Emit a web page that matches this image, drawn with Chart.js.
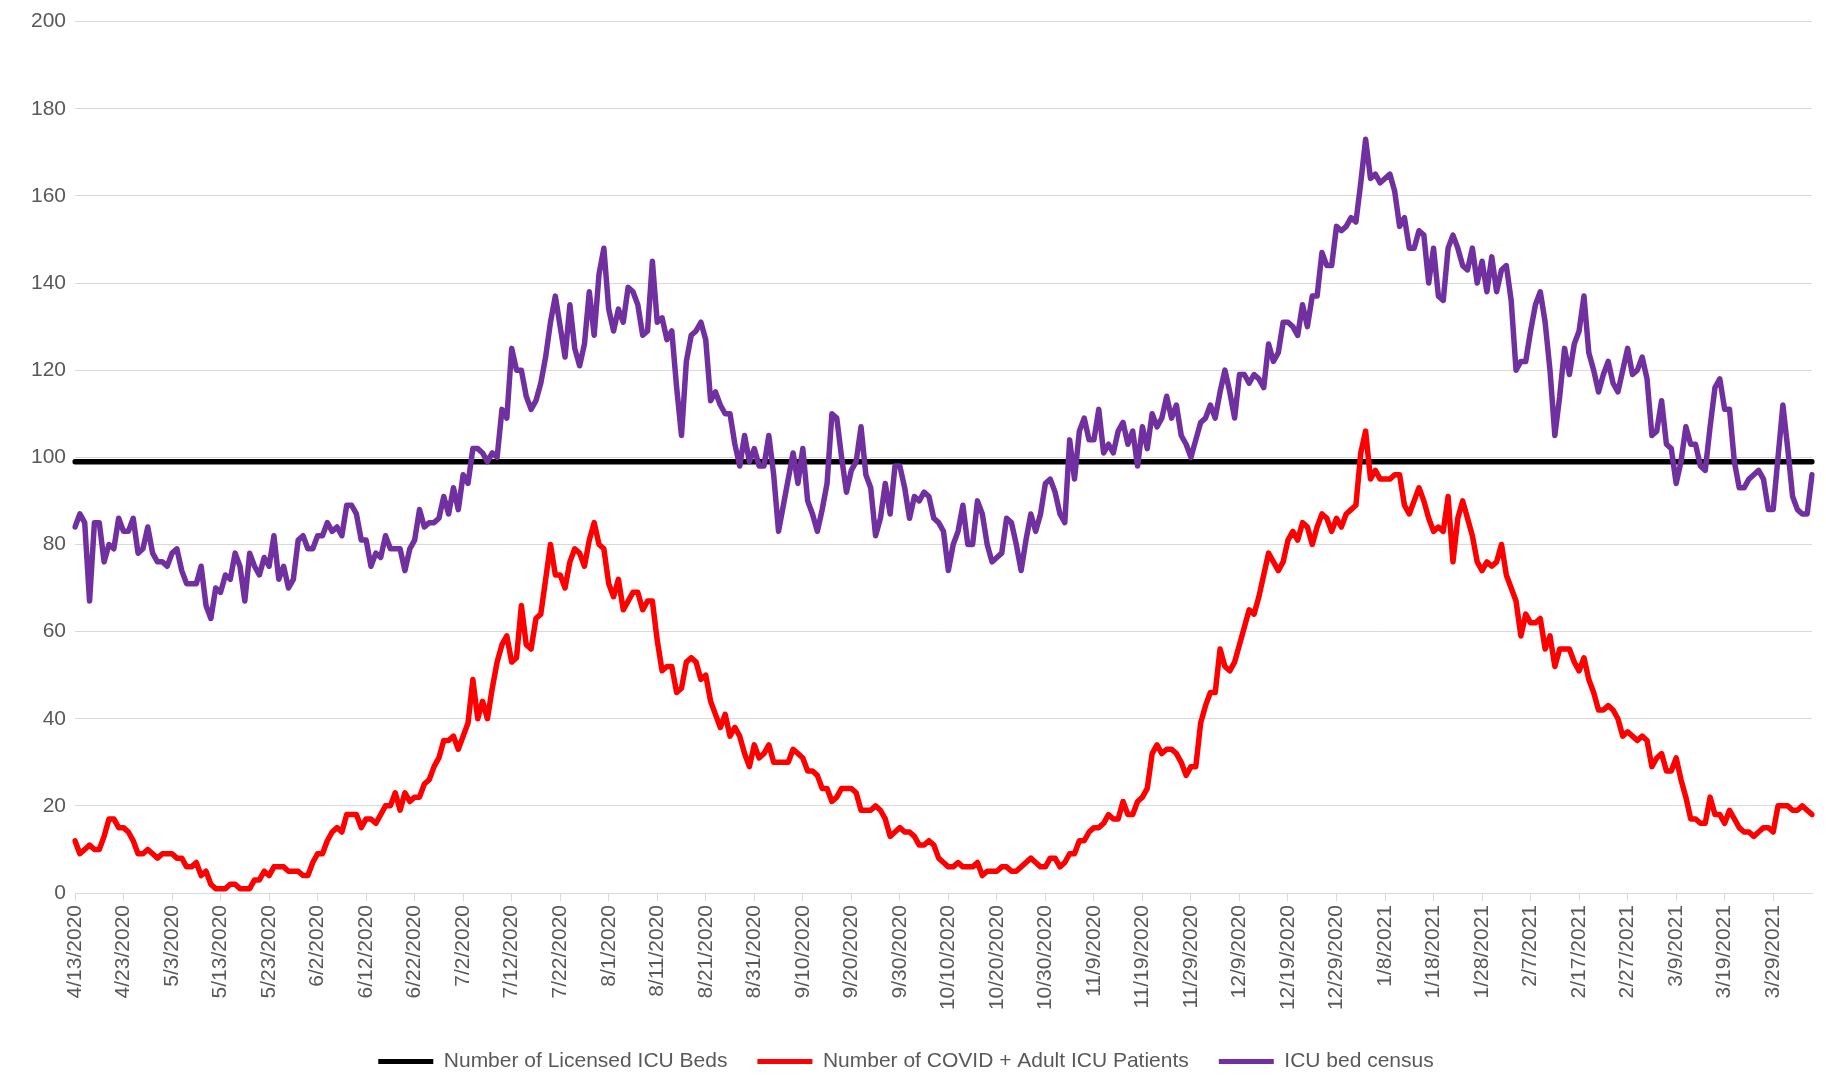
<!DOCTYPE html>
<html>
<head>
<meta charset="utf-8">
<script src="https://cdn.jsdelivr.net/npm/chart.js@4.4.1/dist/chart.umd.min.js"></script>
<style>
  html, body { margin: 0; padding: 0; background: #ffffff; }
  #wrap { width: 1826px; height: 1084px; position: relative; }
</style>
</head>
<body>
<div id="wrap"><canvas id="c" width="1826" height="1084"></canvas></div>
<script>
// ---- Data ----
const startDate = [2020, 4, 13]; // first day of the daily series (M/D/YYYY labels)
const labelEvery = 10;            // a date label every 10 days
const licensedBeds = 99;          // Number of Licensed ICU Beds (constant)

const covidAdultIcu = [
  12,9,10,11,10,10,13,17,17,15,15,14,12,9,9,10,9,8,9,9,
  9,8,8,6,6,7,4,5,2,1,1,1,2,2,1,1,1,3,3,5,
  4,6,6,6,5,5,5,4,4,7,9,9,12,14,15,14,18,18,18,15,
  17,17,16,18,20,20,23,19,23,21,22,22,25,26,29,31,35,35,36,33,
  36,39,49,40,44,40,47,53,57,59,53,54,66,57,56,63,64,72,80,73,
  73,70,76,79,78,75,81,85,80,79,71,68,72,65,67,69,69,65,67,67,
  58,51,52,52,46,47,53,54,53,49,50,44,41,38,41,36,38,36,32,29,
  34,31,32,34,30,30,30,30,33,32,31,28,28,27,24,24,21,22,24,24,
  24,23,19,19,19,20,19,17,13,14,15,14,14,13,11,11,12,11,8,7,
  6,6,7,6,6,6,7,4,5,5,5,6,6,5,5,6,7,8,7,6,
  6,8,8,6,7,9,9,12,12,14,15,15,16,18,17,17,21,18,18,21,
  22,24,32,34,32,33,33,32,30,27,29,29,39,43,46,46,56,52,51,53,
  57,61,65,64,68,73,78,76,74,76,81,83,81,85,84,80,84,87,86,83,
  86,84,87,88,89,101,106,95,97,95,95,95,96,96,89,87,90,93,90,86,
  83,84,83,91,76,86,90,86,82,76,74,76,75,76,80,73,70,67,59,64,
  62,62,63,56,59,52,56,56,56,53,51,54,49,46,42,42,43,42,40,36,
  37,36,35,36,35,29,31,32,28,28,31,26,22,17,17,16,16,22,18,18,
  16,19,17,15,14,14,13,14,15,15,14,20,20,20,19,19,20,19,18
];

const icuBedCensus = [
  84,87,85,67,85,85,76,80,79,86,83,83,86,78,79,84,78,76,76,75,
  78,79,74,71,71,71,75,66,63,70,69,73,72,78,75,67,78,75,73,77,
  75,82,72,75,70,72,81,82,79,79,82,82,85,83,84,82,89,89,87,81,
  81,75,78,77,82,79,79,79,74,79,81,88,84,85,85,86,91,87,93,88,
  96,94,102,102,101,99,101,100,111,109,125,120,120,114,111,113,117,123,131,137,
  130,123,135,125,121,126,138,128,142,148,134,129,134,131,139,138,135,128,129,145,
  131,132,127,129,116,105,122,128,129,131,127,113,115,112,110,110,103,98,105,99,
  102,98,98,105,96,83,89,95,101,94,102,90,87,83,88,94,110,109,100,92,
  97,99,107,96,93,82,86,94,87,98,98,93,86,91,90,92,91,86,85,83,
  74,80,83,89,80,80,90,87,80,76,77,78,86,85,80,74,81,87,83,87,
  94,95,92,87,85,104,95,106,109,104,104,111,101,103,101,106,108,103,106,98,
  107,102,110,107,109,114,109,112,105,103,100,104,108,109,112,109,115,120,115,109,
  119,119,117,119,118,116,126,122,124,131,131,130,128,135,130,137,137,147,144,144,
  153,152,153,155,154,163,173,164,165,163,164,165,161,153,155,148,148,152,151,140,
  148,137,136,148,151,148,144,143,148,140,145,138,146,138,143,144,136,120,122,122,
  129,135,138,131,120,105,114,125,119,126,129,137,124,120,115,119,122,117,115,120,
  125,119,120,123,118,105,106,113,103,102,94,99,107,103,103,98,97,107,116,118,
  111,111,99,93,93,95,96,97,95,88,88,100,112,102,91,88,87,87,96
];

const yTickMin = 0, yTickMax = 200, yTickStep = 20;

// ---- Categories (one per day) ----
const categories = [];
{
  const t0 = Date.UTC(startDate[0], startDate[1] - 1, startDate[2]);
  for (let i = 0; i < icuBedCensus.length; i++) {
    const d = new Date(t0 + i * 86400000);
    categories.push((d.getUTCMonth() + 1) + '/' + d.getUTCDate() + '/' + d.getUTCFullYear());
  }
}
const licensedSeries = categories.map(() => licensedBeds);

// ---- Styling ----
const FONT = "'Liberation Sans', Arial, sans-serif";
const TEXT = '#595959';
const GRID = '#d9d9d9';
Chart.defaults.font.family = FONT;
Chart.defaults.color = TEXT;

const plotLeft = 75, plotTop = 18, plotBottom = 893, rightPad = 14, bottomPad = 2;
const legendPad = 30, fontSize = 21;
const legendHeight = fontSize + legendPad + 10;

new Chart(document.getElementById('c'), {
  type: 'line',
  data: {
    labels: categories,
    datasets: [
      {
        label: 'Number of Licensed ICU Beds',
        data: licensedSeries,
        borderColor: '#000000',
        backgroundColor: '#000000',
        borderWidth: 5.5,
        order: 2
      },
      {
        label: 'Number of COVID + Adult ICU Patients',
        data: covidAdultIcu,
        borderColor: '#ff0000',
        backgroundColor: '#ff0000',
        borderWidth: 5.5,
        order: 1
      },
      {
        label: 'ICU bed census',
        data: icuBedCensus,
        borderColor: '#7030a0',
        backgroundColor: '#7030a0',
        borderWidth: 5.5,
        order: 0
      }
    ]
  },
  options: {
    responsive: false,
    animation: false,
    devicePixelRatio: 1,
    elements: {
      point: { radius: 0, hoverRadius: 0 },
      line: { tension: 0, borderJoinStyle: 'round', borderCapStyle: 'round', fill: false }
    },
    layout: { padding: { left: 0, right: rightPad, top: plotTop, bottom: bottomPad } },
    plugins: {
      tooltip: { enabled: false },
      legend: {
        display: true,
        position: 'bottom',
        labels: {
          boxWidth: 55,
          boxHeight: 5,
          padding: legendPad,
          color: TEXT,
          font: { size: fontSize, family: FONT },
          sort: (a, b) => a.datasetIndex - b.datasetIndex,
          generateLabels: (chart) =>
            Chart.defaults.plugins.legend.labels.generateLabels(chart).map(l => ({
              ...l, lineWidth: 0, fillStyle: l.strokeStyle
            }))
        }
      }
    },
    scales: {
      x: {
        type: 'category',
        offset: false,
        grid: {
          drawOnChartArea: false,
          drawTicks: true,
          tickLength: 8,
          color: GRID,
          lineWidth: 1
        },
        border: { display: true, color: GRID, width: 1 },
        ticks: {
          autoSkip: false,
          maxRotation: 90,
          minRotation: 90,
          padding: 4,
          color: TEXT,
          font: { size: fontSize, family: FONT },
          callback: function (val, idx) {
            return idx % labelEvery === 0 ? this.getLabelForValue(val) : null;
          }
        },
        afterFit: (scale) => { scale.height = 1084 - bottomPad - plotBottom - legendHeight; }
      },
      y: {
        min: yTickMin,
        max: yTickMax,
        grid: { color: GRID, lineWidth: 1, drawTicks: false },
        border: { display: false },
        ticks: {
          stepSize: yTickStep,
          padding: 9,
          color: TEXT,
          font: { size: fontSize, family: FONT }
        },
        afterFit: (scale) => { scale.width = plotLeft; }
      }
    }
  }
});
</script>
</body>
</html>
